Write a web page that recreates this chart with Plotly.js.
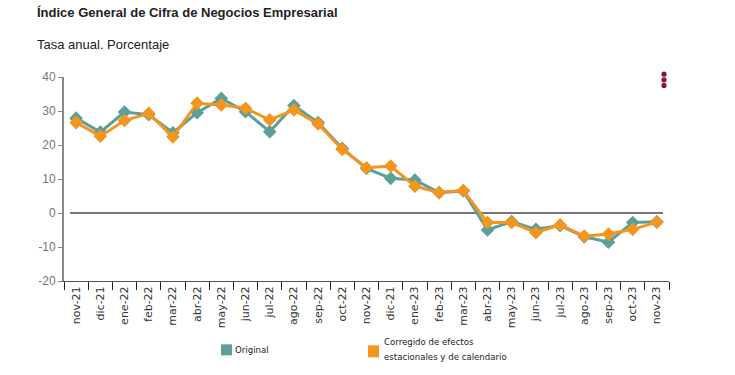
<!DOCTYPE html>
<html>
<head>
<meta charset="utf-8">
<script src="https://cdn.plot.ly/plotly-3.0.1.min.js"></script>
<style>html,body{margin:0;padding:0;background:#fff;}#chart{width:735px;height:375px;}</style>
</head>
<body>
<div id="chart"></div>
<script>
const months = ["nov-21","dic-21","ene-22","feb-22","mar-22","abr-22","may-22","jun-22","jul-22","ago-22","sep-22","oct-22","nov-22","dic-21","ene-23","feb-23","mar-23","abr-23","may-23","jun-23","jul-23","ago-23","sep-23","oct-23","nov-23"];
const original = [27.9,23.8,29.7,28.9,23.6,29.5,33.7,29.8,23.9,31.6,26.6,19.0,13.1,10.2,9.7,6.0,6.5,-5.0,-2.5,-4.8,-3.7,-7.0,-8.6,-2.8,-2.6];
const corregido = [26.6,22.6,27.2,29.3,22.4,32.3,31.8,30.8,27.4,30.3,26.2,18.7,13.3,13.8,7.9,6.0,6.6,-2.8,-2.8,-5.8,-3.5,-6.8,-6.2,-4.8,-2.7];
const yTicks = [-20,-10,0,10,20,30,40];
const yTickText = ["-20","-10","0","10","20","30","40"];
const legendNames = ["Original","Corregido de efectos","estacionales y de calendario"];
const titleText = "Índice General de Cifra de Negocios Empresarial";
const subtitleText = "Tasa anual. Porcentaje";

const teal = "#5a9f9a", orange = "#f3951f";
const idx = months.map((_, i) => i);
const bounds = months.map((_, i) => i - 0.5).concat([months.length - 0.5]);

const traces = [
  {x: idx, y: original, type: "scatter", mode: "lines+markers", name: legendNames[0],
   line: {color: teal, width: 3}, marker: {symbol: "diamond", size: 10.5, color: teal}, showlegend: false},
  {x: idx, y: corregido, type: "scatter", mode: "lines+markers", name: legendNames[1] + " " + legendNames[2],
   line: {color: orange, width: 3}, marker: {symbol: "diamond", size: 10.5, color: orange}, showlegend: false}
];

const W = 605, L = 64, T = 77, H = 204.5;
const px = p => (p - L) / W;
const py = p => (T + H - p) / H;

function dot(yp) {
  return {type: "circle", xref: "paper", yref: "paper", xsizemode: "pixel", ysizemode: "pixel",
    xanchor: px(664), yanchor: py(yp), x0: -2.6, x1: 2.6, y0: -2.6, y1: 2.6,
    fillcolor: "#8e1240", line: {width: 0}};
}

const layout = {
  width: 735, height: 375,
  margin: {l: L, r: 735 - L - W, t: T, b: 375 - T - H},
  paper_bgcolor: "#fff", plot_bgcolor: "#fff",
  showlegend: false,
  xaxis: {
    range: [-0.5, months.length - 0.5], tickmode: "array", tickvals: idx, ticktext: months,
    tickangle: -90, ticks: "", showgrid: false, zeroline: false,
    showline: true, linecolor: "#555", linewidth: 1,
    tickfont: {family: "DejaVu Sans", size: 11, color: "#333"},
    minor: {tickmode: "array", tickvals: bounds, ticks: "outside", ticklen: 8, tickcolor: "#222", tickwidth: 1, showgrid: false}
  },
  yaxis: {
    range: [-20, 40], tickmode: "array", tickvals: yTicks, ticktext: yTickText, ticks: "outside", ticklen: 4,
    tickcolor: "#888", showgrid: false, zeroline: false, showline: true, linecolor: "#888", linewidth: 2,
    tickfont: {family: "Liberation Sans", size: 12, color: "#777"}
  },
  shapes: [
    {type: "line", xref: "x", yref: "y", x0: -0.25, x1: months.length - 0.75, y0: 0, y1: 0, line: {color: "#777", width: 2}, layer: "below"},
    {type: "rect", xref: "paper", yref: "paper", x0: px(221), x1: px(232), y0: py(345), y1: py(356), fillcolor: teal, line: {width: 0}},
    {type: "rect", xref: "paper", yref: "paper", x0: px(368), x1: px(379), y0: py(346), y1: py(358), fillcolor: orange, line: {width: 0}},
    dot(74.2), dot(79.8), dot(85.4)
  ],
  annotations: [
    {text: "<b>" + titleText + "</b>", xref: "paper", yref: "paper", x: px(35), y: py(12), xanchor: "left", yanchor: "middle", showarrow: false,
     font: {family: "Liberation Sans", size: 13, color: "#222"}},
    {text: subtitleText, xref: "paper", yref: "paper", x: px(35), y: py(44), xanchor: "left", yanchor: "middle", showarrow: false,
     font: {family: "Liberation Sans", size: 13, color: "#222"}},
    {text: legendNames[0], xref: "paper", yref: "paper", x: px(233), y: py(350.5), xanchor: "left", yanchor: "middle", showarrow: false,
     font: {family: "DejaVu Sans", size: 8.6, color: "#222"}},
    {text: legendNames[1], xref: "paper", yref: "paper", x: px(382), y: py(343), xanchor: "left", yanchor: "middle", showarrow: false,
     font: {family: "DejaVu Sans", size: 8.6, color: "#222"}},
    {text: legendNames[2], xref: "paper", yref: "paper", x: px(382), y: py(357.5), xanchor: "left", yanchor: "middle", showarrow: false,
     font: {family: "DejaVu Sans", size: 8.6, color: "#222"}}
  ]
};

Plotly.newPlot("chart", traces, layout, {displayModeBar: false, staticPlot: true});
</script>
</body>
</html>
